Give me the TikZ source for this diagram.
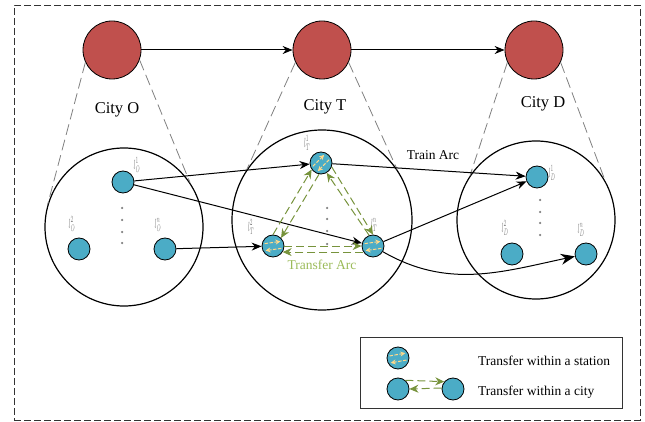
\documentclass[tikz,border=0pt]{standalone}
\usepackage{fontspec}
\setmainfont{Liberation Serif}
\usetikzlibrary{arrows.meta}
\definecolor{cityred}{HTML}{C0504D}
\definecolor{stationblue}{HTML}{4BACC6}
\definecolor{arcgreen}{HTML}{77933C}
\definecolor{arctext}{HTML}{9BBB59}
\definecolor{hubyellow}{HTML}{FFD98A}
\newcommand{\bodysize}{\fontsize{13.5}{15}\selectfont}
\newcommand{\citysize}{\fontsize{16.5}{18}\selectfont}
\tikzset{
    citynode/.style={circle,draw=black,line width=0.8pt,fill=cityred,minimum size=58pt,inner sep=0pt},
    cityarea/.style={circle,draw=black,line width=1.2pt,inner sep=0pt},
    station/.style={circle,draw=black,line width=0.8pt,fill=stationblue,minimum size=22pt,inner sep=0pt},
    hubarrow/.style={-{Stealth[length=5pt,width=5pt]},hubyellow,line width=1pt,dash pattern=on 3.5pt off 1.5pt},
    arrow/.style={-{Stealth[length=10pt,width=8pt]},line width=1pt},
    bigarrow/.style={-{Stealth[length=14pt,width=11pt]},line width=1pt},
    transfer/.style={-{Stealth[length=9pt,width=8pt]},arcgreen,line width=1pt,dash pattern=on 8pt off 4pt},
    zone/.style={gray,dash pattern=on 11pt off 5pt,line width=0.8pt},
    stationlabel/.style={gray,font=\scriptsize,xscale=0.8,yscale=1.9,transform shape,inner sep=0pt},
    pause/.style={circle,fill=gray,minimum size=2.5pt,inner sep=0pt}
}

\begin{document}
\begin{tikzpicture}[x=1pt,y=-1pt]
    \useasboundingbox (0,0) rectangle (645,422);
    \node (frame) [draw=black!80,line width=0.8pt,dash pattern=on 7pt off 3pt,minimum width=626pt,minimum height=415pt,inner sep=0pt] at (327,212.5) {};

    \node (CO) [citynode] at (112,50) {};
    \node (CT) [citynode] at (322,50) {};
    \node (CD) [citynode] at (534,50) {};
    \node (O) [cityarea,minimum size=158pt] at (124,227) {};
    \node (T) [cityarea,minimum size=180pt] at (322,220) {};
    \node (D) [cityarea,minimum size=158pt] at (536,220) {};

    \node (nameO) [font=\citysize] at (117,110) {City O};
    \node (nameT) [font=\citysize] at (325,107) {City T};
    \node (nameD) [font=\citysize] at (543,104) {City D};

    \draw [zone] (CO.205) -- (O.164);
    \draw [zone] (CO.-20) -- (O.34);
    \draw [zone] (CT.205) -- (T.146);
    \draw [zone] (CT.-25) -- (T.34);
    \draw [zone] (CD.205) -- (D.146);
    \draw [zone] (CD.-25) -- (D.30);

    \node (O1) [station] at (123,182) {};
    \node (O2) [station] at (79,249) {};
    \node (O3) [station] at (165,249) {};
    \node (T1) [station] at (321,163) {};
    \node (T2) [station] at (273,246) {};
    \node (T3) [station] at (373,246) {};
    \node (D1) [station] at (537,177) {};
    \node (D2) [station] at (512,254) {};
    \node (D3) [station] at (586,254) {};
    \node (L1) [station] at (398,358) {};
    \node (L2) [station] at (398,389) {};
    \node (L3) [station] at (453,389) {};

    \foreach \hub/\tilt in {T1/45,T2/8,T3/8,L1/10} {
        \begin{scope}[shift={(\hub)},rotate=\tilt,x=1pt,y=1pt]
            \draw [hubarrow] (-8,3.5) -- (8,3.5);
            \draw [hubarrow] (8,-3.5) -- (-8,-3.5);
        \end{scope}
    }

    \node (lO1) [stationlabel] at (137,165) {$l_{O}^{1}$};
    \node (lO2) [stationlabel] at (72,224) {$l_{O}^{2}$};
    \node (lO3) [stationlabel] at (158,225) {$l_{O}^{n}$};
    \node (lT1) [stationlabel] at (307,143) {$l_{T}^{1}$};
    \node (lT2) [stationlabel] at (251,227) {$l_{T}^{2}$};
    \node (lT3) [stationlabel] at (374,225) {$l_{T}^{n}$};
    \node (lD1) [stationlabel] at (552,173) {$l_{D}^{1}$};
    \node (lD2) [stationlabel] at (505,228) {$l_{D}^{2}$};
    \node (lD3) [stationlabel] at (581,230) {$l_{D}^{n}$};

    \foreach \y in {208,220,232,243}
        \node (dotO\y) [pause] at (122,\y) {};
    \foreach \y in {208,219,231,244}
        \node (dotT\y) [pause] at (327,\y) {};
    \foreach \y in {200,212,223,235}
        \node (dotD\y) [pause] at (540,\y) {};

    \draw [arrow] (CO) -- (CT);
    \draw [arrow] (CT) -- (CD);
    \draw [arrow] (O1) -- (T1);
    \draw [arrow] (O1) -- (T3);
    \draw [arrow] (O3) -- (T2);
    \draw [arrow] (T1) -- (D1);
    \draw [arrow] (T3) -- (D1);
    \draw [bigarrow] (T3) to [out=-30,in=192] (D3);
    \node (train) [font=\bodysize] at (433,155) {Train Arc};

    \draw [transfer] (T2.90) -- (T1.215);
    \draw [transfer] (T1.260) -- (T2.45);
    \draw [transfer] (T1.-20) -- (T3.90);
    \draw [transfer] (T3.110) -- (T1.-60);
    \draw [transfer] (T2.0) -- (T3.180);
    \draw [transfer] (T3.212) -- (T2.-32);
    \node (transferarc) [arctext,font=\bodysize] at (322,265) {Transfer Arc};

    \node (legend) [draw=black!80,line width=1pt,minimum width=262pt,minimum height=71pt,inner sep=0pt] at (491,372.5) {};
    \draw [transfer] (L2.50) -- (L3.140);
    \draw [transfer] (L3.175) -- (L2.0);
    \node (station) [anchor=west,font=\bodysize,inner sep=0pt] at (478,361) {Transfer within a station};
    \node (city) [anchor=west,font=\bodysize,inner sep=0pt] at (478,392) {Transfer within a city};
\end{tikzpicture}
\end{document}
